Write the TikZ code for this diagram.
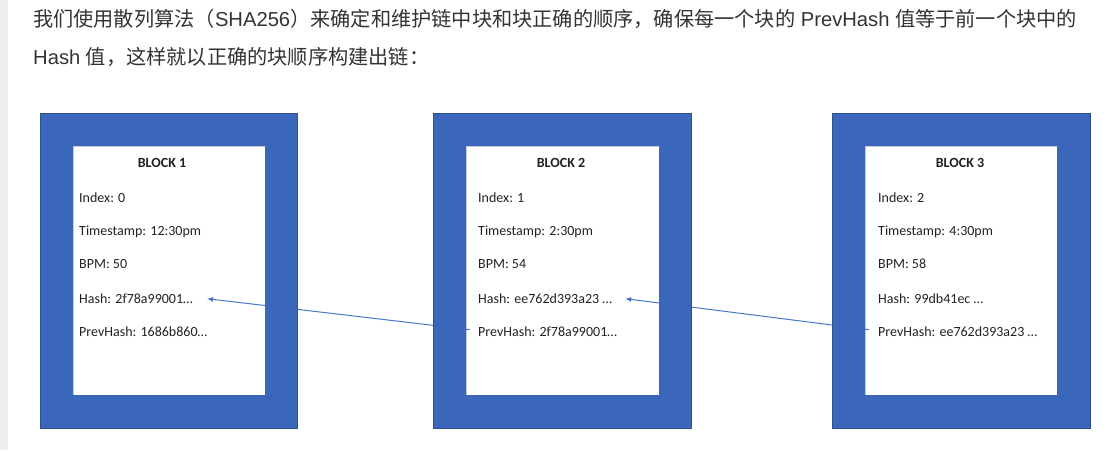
\documentclass[tikz,border=0pt]{standalone}
\usepackage{fontspec}
\setmainfont{Liberation Sans}
\newfontfamily\cjk{Noto Sans CJK SC}
\newfontfamily\calib{Carlito}
\usetikzlibrary{arrows.meta}
\definecolor{frameblue}{HTML}{3A66BC}
\definecolor{edgeblue}{HTML}{2F528F}
\definecolor{linkblue}{HTML}{4A76C6}
\definecolor{paracol}{HTML}{333333}
\definecolor{stripcol}{HTML}{EDEDED}
\definecolor{fieldcol}{HTML}{222222}
\begin{document}
\begin{tikzpicture}[x=1pt,y=-1pt,
  para/.style={anchor=base west, inner sep=0, text=paracol, font=\fontsize{20.2}{24}\selectfont},
  field/.style={anchor=base west, inner sep=0, text=fieldcol, font=\calib\fontsize{14}{16}\selectfont},
  btitle/.style={anchor=base, inner sep=0, text=fieldcol, font=\calib\bfseries\fontsize{14}{16}\selectfont},
  link/.style={draw=linkblue, line width=1pt, -{Latex[length=6pt,width=5pt]}},
  inner/.style={fill=white, draw=black!15, line width=0.5pt},
  frame/.style={fill=frameblue, even odd rule},
  frameedge/.style={draw=edgeblue, line width=0.8pt}]
\useasboundingbox (0,0) rectangle (1116,450);
\fill[stripcol] (0,0) rectangle (8,450);

% paragraph
\node[para] (l1) at (33,26) {{\cjk 我们使用散列算法（}SHA256{\cjk ）来确定和维护链中块和块正确的顺序，确保每一个块的} PrevHash {\cjk 值等于前一个块中的}};
\node[para] (l2) at (33,64) {Hash {\cjk 值，这样就以正确的块顺序构建出链：}};

% white interiors
\path[inner] (73,146) rectangle (265,395);
\path[inner] (466,146) rectangle (659,395);
\path[inner] (865,146) rectangle (1057,395);

% block 1
\node[btitle] (t1) at (162,167.5) {BLOCK 1};
\node[field] (i1) at (79,202.5) {Index: 0};
\node[field] (s1) at (79,235) {Timestamp: 12:30pm};
\node[field] (b1) at (79,268.5) {BPM: 50};
\node[field] (h1) at (79,303.5) {Hash: 2f78a99001…};
\node[field] (p1) at (79,336.5) {PrevHash: 1686b860…};

% block 2
\node[btitle] (t2) at (561,167.5) {BLOCK 2};
\node[field] (i2) at (478,202.5) {Index: 1};
\node[field] (s2) at (478,235) {Timestamp: 2:30pm};
\node[field] (b2) at (478,268.5) {BPM: 54};
\node[field] (h2) at (478,303.5) {Hash: ee762d393a23 …};
\node[field] (p2) at (478,336.5) {PrevHash: 2f78a99001…};

% block 3
\node[btitle] (t3) at (960,167.5) {BLOCK 3};
\node[field] (i3) at (878,202.5) {Index: 2};
\node[field] (s3) at (878,235) {Timestamp: 4:30pm};
\node[field] (b3) at (878,268.5) {BPM: 58};
\node[field] (h3) at (878,303.5) {Hash: 99db41ec …};
\node[field] (p3) at (878,336.5) {PrevHash: ee762d393a23 …};

% links (under the frames)
\coordinate (s2a) at ([xshift=-8pt,yshift=2pt]p2.west);
\coordinate (e1a) at ([xshift=14pt,yshift=0pt]h1.east);
\coordinate (s3a) at ([xshift=-9pt,yshift=2pt]p3.west);
\coordinate (e2a) at ([xshift=13pt,yshift=0pt]h2.east);
\draw[link] (s2a) -- (e1a);
\draw[link] (s3a) -- (e2a);

% blue frames
\path[frame] (40,113) rectangle (297,428) (73,146) rectangle (265,395);
\path[frame] (433,113) rectangle (691,428) (466,146) rectangle (659,395);
\path[frame] (832,113) rectangle (1090,428) (865,146) rectangle (1057,395);
\path[frameedge] (40,113) rectangle (297,428);
\path[frameedge] (433,113) rectangle (691,428);
\path[frameedge] (832,113) rectangle (1090,428);
\end{tikzpicture}
\end{document}
